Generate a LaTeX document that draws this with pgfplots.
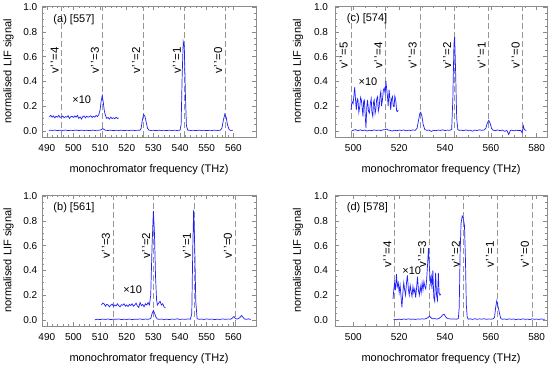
\documentclass[border=0pt]{standalone}
\usepackage{fontspec}
\setmainfont{Liberation Sans}
\usepackage{pgfplots}
\pgfplotsset{compat=1.18}
\definecolor{trace}{RGB}{30,30,255}
\definecolor{frame}{RGB}{140,140,140}
\definecolor{dashc}{RGB}{150,150,150}
\newcommand{\vpp}{v\textquoteright\,\textquoteright}
\tikzset{
  vlab/.style={rotate=90, anchor=south, font=\fontsize{11.5}{13}\selectfont, inner sep=3pt},
  plab/.style={anchor=west, font=\fontsize{11}{13}\selectfont, inner sep=0pt},
}
\pgfplotsset{
  lif/.style={
    scale only axis, height=131pt,
    ymin=-0.05, ymax=1.01,
    ytick={0,0.2,0.4,0.6,0.8,1.0},
    minor y tick num=3,
    /pgf/number format/assume math mode=true,
    yticklabel style={/pgf/number format/fixed,/pgf/number format/fixed zerofill,/pgf/number format/precision=1, font=\fontsize{10}{12}\selectfont},
    xticklabel style={/pgf/number format/1000 sep={}, font=\fontsize{10}{12}\selectfont, yshift=-3.5pt},
    tick align=inside, major tick length=4pt, minor tick length=2pt,
    every tick/.style={frame, line width=0.5pt},
    axis line style={frame, line width=0.6pt},
    every axis x label/.style={at={(axis description cs:0.5,0)}, yshift=-33pt, anchor=center, font=\fontsize{11}{13}\selectfont},
    every axis y label/.style={at={(axis description cs:0,0.5)}, xshift=-33.5pt, rotate=90, anchor=center, font=\fontsize{11}{13}\selectfont},
    xlabel={monochromator frequency (THz)},
    ylabel={normalised LIF signal},
    clip=true,
  },
  lifab/.style={lif, width=214pt, xmin=488.2, xmax=568.5, xtick={490,500,...,560}, minor x tick num=4},
  lifcd/.style={lif, width=212pt, xmin=492, xmax=584.5, xtick={500,520,...,580}, minor x tick num=3,
     yticklabel style={xshift=-3.5pt},
     every axis y label/.style={at={(axis description cs:0,0.5)}, xshift=-37pt, rotate=90, anchor=center, font=\fontsize{11}{13}\selectfont}},
  vline/.style={dashc, line width=0.9pt, dash pattern=on 6pt off 3pt},
  spec/.style={trace, line width=0.7pt},
}
\begin{document}
\begin{tikzpicture}
\path[use as bounding box] (0,0) rectangle (549pt,366pt);

% ---------------- (a) ----------------
\begin{axis}[lifab, at={(42pt,229pt)}, anchor=south west, yticklabel style={xshift=-1.2pt}]
\addplot[vline] coordinates {(495.6,-0.05) (495.6,1.01)};
\addplot[vline] coordinates {(510.8,-0.05) (510.8,1.01)};
\addplot[vline] coordinates {(526.2,-0.05) (526.2,1.01)};
\addplot[vline] coordinates {(541.5,-0.05) (541.5,1.01)};
\addplot[vline] coordinates {(557.0,-0.05) (557.0,1.01)};
\addplot[spec] coordinates {
(490.8,0.005) (492,0.003) (493,0.006) (494,0.002) (495,0.005) (496,0.003) (497,0.006) (498,0.002) (499,0.004) (500,0.003)
(501,0.006) (502,0.002) (503,0.005) (504,0.003) (505,0.004) (506,0.002) (507,0.005) (508,0.003) (509,0.004) (510,0.006)
(510.5,0.01) (510.9,0.018) (511.4,0.012) (512,0.004) (513,0.003) (514,0.005) (515,0.002) (516,0.004) (517,0.003) (518,0.005)
(519,0.002) (520,0.004) (521,0.003) (522,0.005) (523,0.003) (524,0.004) (525,0.005) (525.4,0.02) (525.8,0.08) (526.3,0.13)
(526.8,0.12) (527.3,0.07) (527.8,0.02) (528.4,0.005) (529,0.003) (530,0.004) (531,0.002) (532,0.005) (533,0.003) (534,0.004)
(535,0.002) (536,0.005) (537,0.003) (538,0.004) (539,0.003) (540,0.005) (540.4,0.05) (540.8,0.45) (541.2,0.72) (541.6,0.68)
(542.0,0.3) (542.4,0.04) (542.9,0.005) (544,0.003) (545,0.004) (546,0.002) (547,0.005) (548,0.003) (549,0.004) (550,0.002)
(551,0.004) (552,0.003) (553,0.005) (554,0.003) (555,0.004) (555.7,0.02) (556.2,0.08) (556.8,0.135) (557.3,0.11) (557.8,0.05)
(558.4,0.01) (559,0.003) (559.8,0.004)};
\addplot[spec] coordinates {
(491,0.115) (491.5,0.125) (492,0.11) (492.5,0.12) (493,0.105) (493.5,0.118) (494,0.11) (494.5,0.125) (495,0.108) (495.5,0.112)
(496,0.12) (496.5,0.105) (497,0.115) (497.5,0.11) (498,0.122) (498.5,0.1) (499,0.113) (499.5,0.118) (500,0.108) (500.5,0.12)
(501,0.11) (501.5,0.125) (502,0.1) (502.5,0.112) (503,0.095) (503.5,0.115) (504,0.12) (504.5,0.105) (505,0.118) (505.5,0.11)
(506,0.115) (506.5,0.122) (507,0.108) (507.5,0.118) (508,0.11) (508.5,0.125) (509,0.115) (509.5,0.13) (510,0.17) (510.4,0.24)
(510.8,0.285) (511.2,0.23) (511.6,0.16) (512,0.125) (512.5,0.1) (513,0.108) (513.5,0.095) (514,0.11) (514.5,0.1) (515,0.105)
(515.5,0.098) (516,0.11) (516.5,0.1) (517,0.105)};
\node[vlab] at (axis cs:495.6,0.57) {\vpp=4};
\node[vlab] at (axis cs:510.8,0.57) {\vpp=3};
\node[vlab] at (axis cs:526.2,0.57) {\vpp=2};
\node[vlab] at (axis cs:541.5,0.57) {\vpp=1};
\node[vlab] at (axis cs:557.0,0.57) {\vpp=0};
\node[font=\fontsize{11}{13}\selectfont] at (axis cs:503.1,0.25) {×10};
\node[plab] at (rel axis cs:0,1) [xshift=11.3pt, yshift=-14pt] {(a) [557]};
\end{axis}

% ---------------- (b) ----------------
\begin{axis}[lifab, at={(42pt,40pt)}, anchor=south west, yticklabel style={xshift=-1.2pt}]
\addplot[vline] coordinates {(514.9,-0.05) (514.9,1.01)};
\addplot[vline] coordinates {(530.0,-0.05) (530.0,1.01)};
\addplot[vline] coordinates {(545.3,-0.05) (545.3,1.01)};
\addplot[vline] coordinates {(560.7,-0.05) (560.7,1.01)};
\addplot[spec] coordinates {
(508,0.0) (509,0.005) (510,0.002) (511,0.006) (512,0.003) (513,0.007) (514,0.002) (515,0.005) (516,0.004) (517,0.007)
(518,0.002) (519,0.005) (520,0.003) (521,0.006) (522,0.002) (523,0.005) (524,0.004) (525,0.007) (526,0.003) (527,0.006)
(528,0.004) (529,0.01) (529.5,0.05) (530,0.075) (530.5,0.05) (531,0.02) (531.5,0.006) (532,0.004) (533,0.006) (534,0.003)
(535,0.005) (536,0.002) (537,0.006) (538,0.004) (539,0.008) (540,0.003) (541,0.006) (542,0.004) (543,0.007) (543.9,0.005)
(544.4,0.05) (544.8,0.6) (545.1,0.89) (545.5,0.6) (545.9,0.15) (546.4,0.01) (547,0.004) (548,0.006) (549,0.003) (550,0.007)
(551,0.004) (552,0.006) (553,0.002) (554,0.005) (555,0.003) (556,0.007) (557,0.004) (558,0.006) (559,0.005) (559.7,0.015)
(560.2,0.027) (560.8,0.01) (561.5,0.006) (562.3,0.015) (563.1,0.035) (563.7,0.018) (564.3,0.006) (565,0.004) (565.7,0.008) (566.5,0.003)};
\addplot[spec] coordinates {
(510.5,0.12) (511,0.135) (511.5,0.13) (512,0.11) (512.5,0.125) (513,0.12) (513.5,0.105) (514,0.118) (514.5,0.128) (515,0.11)
(515.5,0.12) (516,0.112) (516.5,0.13) (517,0.115) (517.5,0.105) (518,0.122) (518.5,0.118) (519,0.13) (519.5,0.11) (520,0.12)
(520.5,0.108) (521,0.125) (521.5,0.115) (522,0.13) (522.5,0.11) (523,0.12) (523.5,0.135) (524,0.112) (524.5,0.1) (525,0.14)
(525.5,0.115) (526,0.125) (526.5,0.105) (527,0.13) (527.5,0.12) (528,0.14) (528.5,0.12) (529,0.2) (529.5,0.6) (530,0.88)
(530.4,0.7) (530.8,0.35) (531.2,0.16) (531.5,0.12) (532,0.135) (532.5,0.15) (533,0.12) (533.5,0.13) (534,0.105) (534.5,0.095)};
\node[vlab] at (axis cs:514.9,0.6) {\vpp=3};
\node[vlab] at (axis cs:530.0,0.6) {\vpp=2};
\node[vlab] at (axis cs:545.3,0.6) {\vpp=1};
\node[vlab] at (axis cs:560.7,0.6) {\vpp=0};
\node[font=\fontsize{11}{13}\selectfont] at (axis cs:522.2,0.243) {×10};
\node[plab] at (rel axis cs:0,1) [xshift=11.3pt, yshift=-13pt] {(b) [561]};
\end{axis}

% ---------------- (c) ----------------
\begin{axis}[lifcd, at={(335pt,229pt)}, anchor=south west]
\addplot[vline] coordinates {(499.0,-0.05) (499.0,1.01)};
\addplot[vline] coordinates {(514.1,-0.05) (514.1,1.01)};
\addplot[vline] coordinates {(529.1,-0.05) (529.1,1.01)};
\addplot[vline] coordinates {(544.1,-0.05) (544.1,1.01)};
\addplot[vline] coordinates {(559.1,-0.05) (559.1,1.01)};
\addplot[vline] coordinates {(574.0,-0.05) (574.0,1.01)};
\addplot[spec] coordinates {
(499.3,0.0) (500,0.004) (501,0.01) (502,0.0) (503,0.008) (504,0.002) (505,0.006) (506,-0.002) (507,0.005) (508,0.001)
(509,0.007) (510,0.003) (511,0.006) (512,0.002) (513,0.008) (514,0.01) (514.6,0.014) (515.2,0.006) (516,0.004) (517,-0.002)
(518,0.005) (519,0.001) (520,0.006) (521,0.003) (522,0.007) (523,0.0) (524,0.005) (525,0.003) (526,0.007) (527,0.004)
(527.8,0.02) (528.4,0.08) (529,0.14) (529.4,0.15) (529.9,0.12) (530.5,0.05) (531.2,0.01) (532,0.004) (533,0.006) (534,-0.005)
(535,0.004) (536,0.001) (537,0.006) (538,0.003) (539,0.008) (540,0.002) (541,0.006) (542,0.004) (542.9,0.01) (543.4,0.25)
(543.9,0.7) (544.2,0.76) (544.6,0.5) (545.1,0.1) (545.6,0.01) (546.2,0.003) (547,0.006) (548,0.001) (549,0.007) (550,0.003)
(551,0.005) (552,-0.003) (553,0.006) (554,0.002) (555,0.008) (556,0.004) (557,0.006) (557.8,0.02) (558.4,0.06) (559.1,0.085)
(559.7,0.06) (560.3,0.02) (561,0.005) (562,0.002) (563,0.007) (564,0.001) (565,0.006) (566,-0.004) (567,0.003) (567.8,-0.03)
(568.5,0.002) (569,0.006) (570,0.0) (571,0.005) (572,0.002) (573,0.004) (573.6,-0.015) (574.2,0.04) (574.6,0.01) (575.4,0.002)};
\addplot[spec] coordinates {
(499.0,0.17) (499.4,0.237) (499.9,0.22) (500.6,0.353) (501.0,0.24) (501.3,0.17) (501.7,0.26) (502.0,0.25) (502.4,0.15) (502.8,0.196)
(503.2,0.27) (503.5,0.25) (503.9,0.18) (504.2,0.116) (504.5,0.24) (504.8,0.25) (505.2,0.12) (505.5,0.022) (505.9,0.2) (506.2,0.25)
(506.6,0.16) (507.0,0.143) (507.4,0.22) (507.8,0.261) (508.1,0.15) (508.5,0.116) (508.8,0.23) (509.1,0.25) (509.5,0.14) (509.8,0.17)
(510.2,0.26) (510.6,0.277) (510.9,0.16) (511.3,0.196) (511.7,0.29) (512.0,0.318) (512.3,0.2) (512.7,0.25) (513.1,0.33) (513.5,0.345)
(513.9,0.3) (514.2,0.404) (514.6,0.33) (514.9,0.277) (515.2,0.2) (515.6,0.332) (516.0,0.25) (516.3,0.17) (516.7,0.26) (517.1,0.277)
(517.4,0.2) (517.8,0.196) (518.1,0.28) (518.5,0.25) (518.9,0.16) (519.2,0.156) (519.6,0.17)};
\node[vlab] at (axis cs:499.0,0.61) {\vpp=5};
\node[vlab] at (axis cs:514.1,0.61) {\vpp=4};
\node[vlab] at (axis cs:529.1,0.61) {\vpp=3};
\node[vlab] at (axis cs:544.1,0.61) {\vpp=2};
\node[vlab] at (axis cs:559.1,0.61) {\vpp=1};
\node[vlab] at (axis cs:574.0,0.61) {\vpp=0};
\node[font=\fontsize{11}{13}\selectfont] at (axis cs:506.4,0.40) {×10};
\node[plab] at (rel axis cs:0,1) [xshift=11.7pt, yshift=-12.5pt] {(c) [574]};
\end{axis}

% ---------------- (d) ----------------
\begin{axis}[lifcd, at={(335pt,40pt)}, anchor=south west]
\addplot[vline] coordinates {(518.0,-0.05) (518.0,1.01)};
\addplot[vline] coordinates {(533.2,-0.05) (533.2,1.01)};
\addplot[vline] coordinates {(547.9,-0.05) (547.9,1.01)};
\addplot[vline] coordinates {(562.7,-0.05) (562.7,1.01)};
\addplot[vline] coordinates {(578.0,-0.05) (578.0,1.01)};
\addplot[spec] coordinates {
(517.6,0.0) (518,0.005) (519,0.0) (520,0.006) (521,0.002) (522,0.007) (523,0.003) (524,0.008) (525,0.004) (526,0.006)
(527,0.003) (528,0.007) (529,0.005) (530,0.008) (531,0.006) (532,0.012) (532.7,0.02) (533.2,0.03) (533.8,0.018) (534.5,0.008)
(535.5,0.01) (536.5,0.006) (537.5,0.012) (538.3,0.025) (539,0.04) (539.6,0.045) (540.3,0.025) (541,0.01) (542,0.008) (543,0.006)
(544,0.007) (545,0.005) (545.8,0.01) (546.2,0.1) (546.6,0.55) (547.0,0.78) (547.5,0.84) (548.0,0.82) (548.5,0.76) (548.9,0.5)
(549.3,0.12) (549.7,0.02) (550.2,0.005) (551,0.008) (552,0.003) (553,0.009) (554,0.004) (555,0.008) (556,0.005) (557,0.009)
(558,0.004) (559,0.007) (560,0.005) (561,0.008) (561.6,0.02) (562.1,0.1) (562.6,0.155) (563.0,0.12) (563.4,0.085) (563.8,0.05)
(564.3,0.012) (565,0.004) (566,0.007) (567,0.003) (568,0.008) (569,0.004) (570,0.007) (571,0.002) (572,0.006) (573,0.003)
(574,0.008) (575,0.004) (576,0.006) (577,0.002) (578,0.008) (579,0.004) (580,0.006) (581,0.003) (582,0.007) (583,0.004) (583.6,0.006)};
\addplot[spec] coordinates {
(517.3,0.17) (517.7,0.25) (518.0,0.3) (518.4,0.24) (518.8,0.37) (519.2,0.27) (519.6,0.3) (520.0,0.22) (520.4,0.28) (520.8,0.19)
(521.2,0.1) (521.6,0.22) (522.0,0.3) (522.4,0.24) (522.8,0.2) (523.2,0.3) (523.6,0.36) (524.0,0.25) (524.4,0.2) (524.8,0.28)
(525.2,0.23) (525.6,0.19) (526.0,0.27) (526.4,0.22) (526.8,0.25) (527.2,0.18) (527.6,0.26) (528.0,0.35) (528.4,0.24) (528.8,0.2)
(529.2,0.27) (529.6,0.22) (530.0,0.3) (530.4,0.24) (530.8,0.31) (531.2,0.27) (531.6,0.25) (532.0,0.33) (532.4,0.45) (532.8,0.58)
(533.2,0.42) (533.6,0.3) (534.0,0.35) (534.3,0.25) (534.7,0.4) (535.1,0.18) (535.5,0.15) (535.9,0.38) (536.3,0.2) (536.7,0.16)
(537.1,0.38) (537.4,0.22) (537.8,0.2) (538.2,0.21)};
\node[vlab] at (axis cs:518.0,0.53) {\vpp=4};
\node[vlab] at (axis cs:533.2,0.53) {\vpp=3};
\node[vlab] at (axis cs:547.9,0.53) {\vpp=2};
\node[vlab] at (axis cs:562.7,0.53) {\vpp=1};
\node[vlab] at (axis cs:578.0,0.53) {\vpp=0};
\node[font=\fontsize{11}{13}\selectfont] at (axis cs:525.5,0.40) {×10};
\node[plab] at (rel axis cs:0,1) [xshift=11.7pt, yshift=-13pt] {(d) [578]};
\end{axis}
\end{tikzpicture}
\end{document}
